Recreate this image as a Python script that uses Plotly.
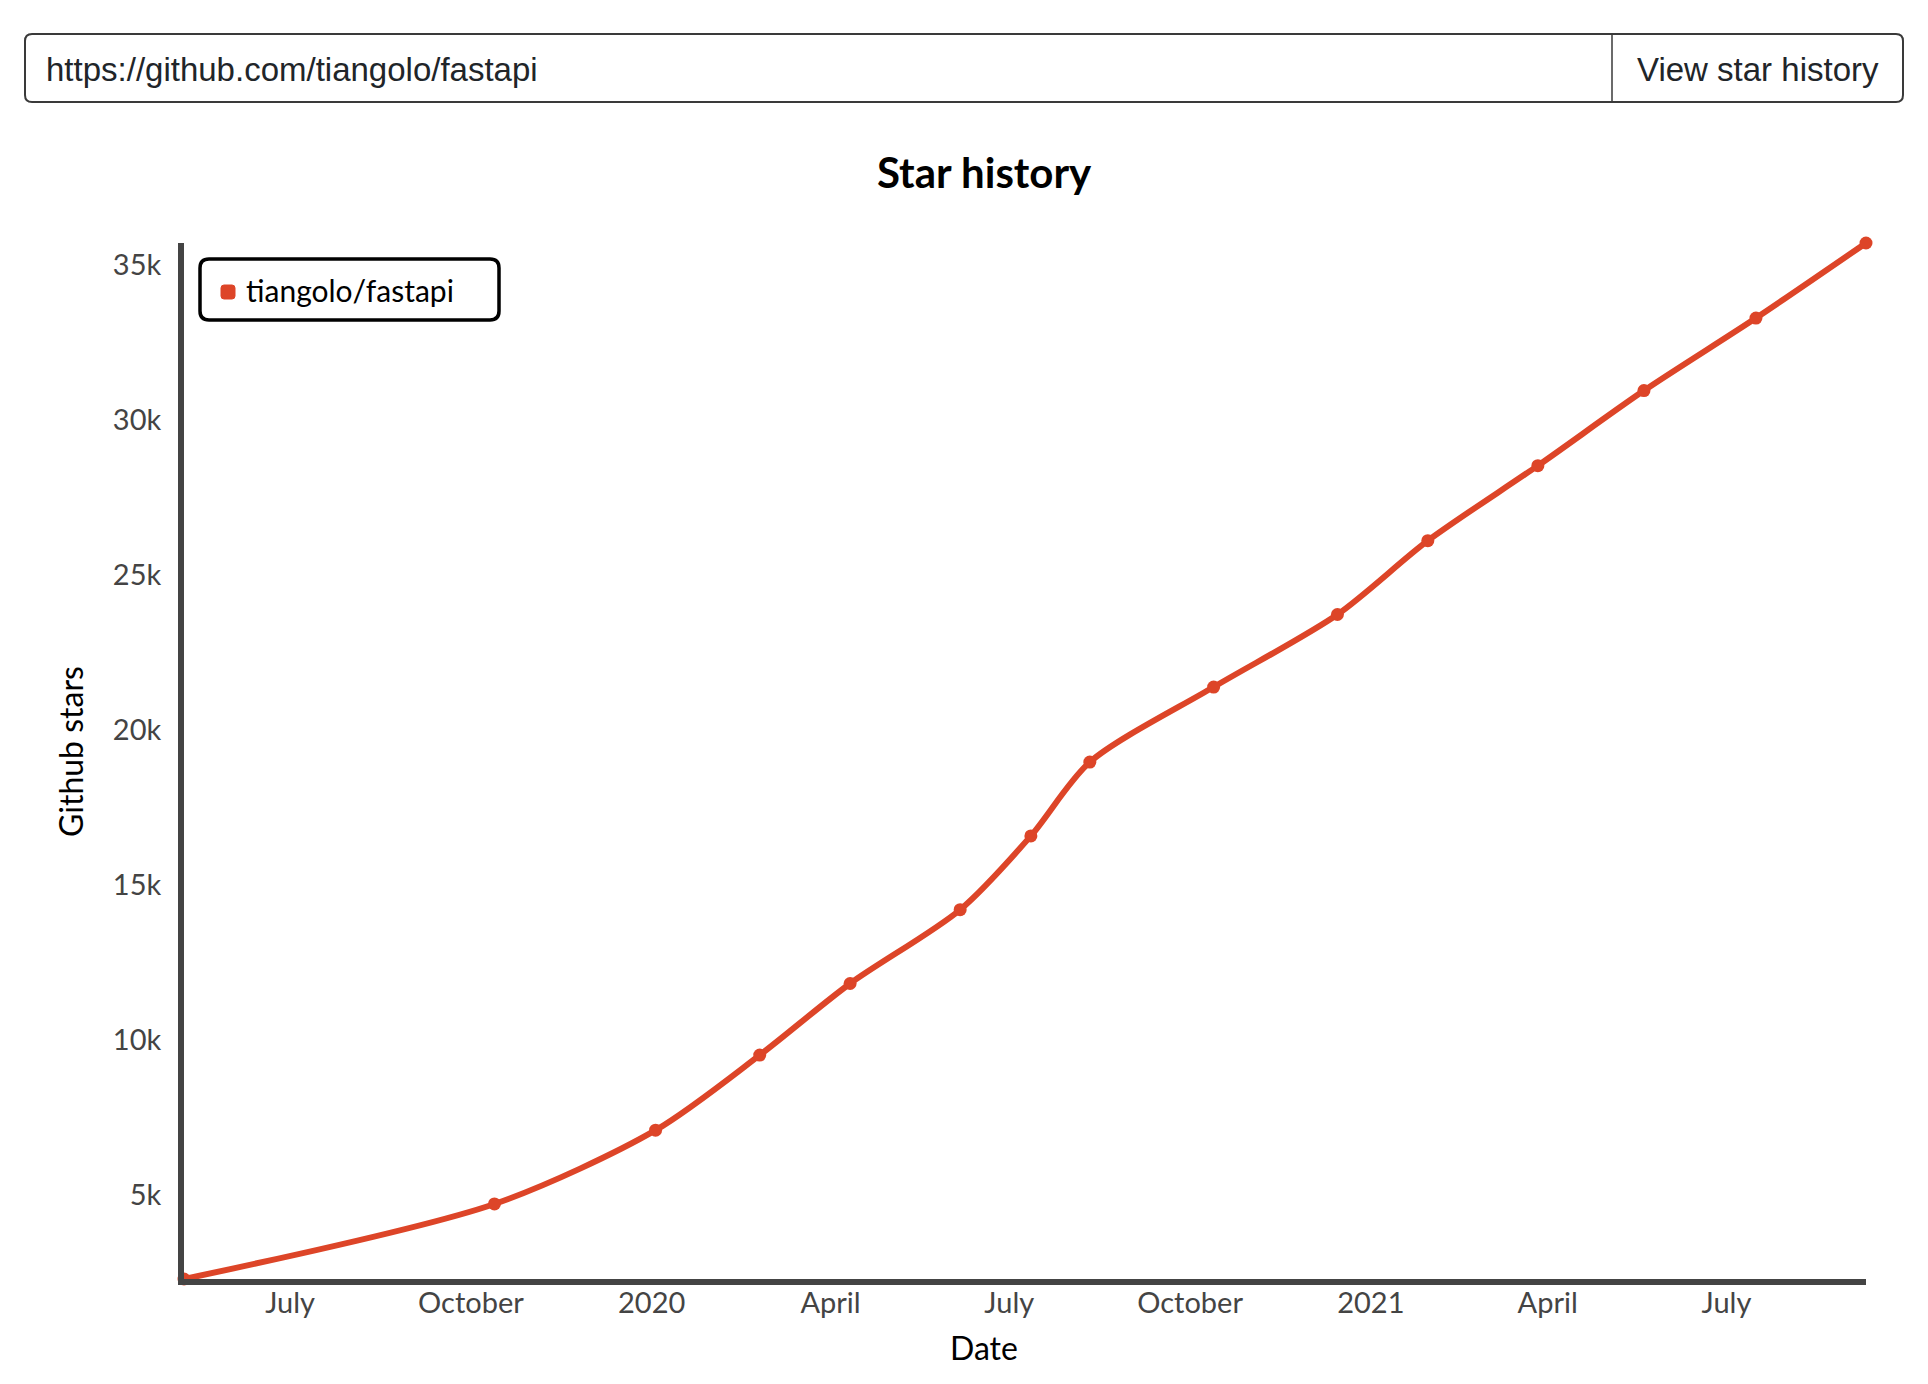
import plotly.graph_objects as go

# ---- data ----
SERIES_NAME = "tiangolo/fastapi"
dates = ["2019-05-08", "2019-10-13", "2020-01-03", "2020-02-25", "2020-04-11",
         "2020-06-06", "2020-07-12", "2020-08-11", "2020-10-13", "2020-12-15",
         "2021-01-30", "2021-03-27", "2021-05-20", "2021-07-16", "2021-09-10"]
stars = [2300, 4720, 7100, 9520, 11830, 14210, 16590, 18970, 21390, 23730,
         26110, 28530, 30950, 33290, 35710]
x_tick_vals = ["2019-07-01", "2019-10-01", "2020-01-01", "2020-04-01", "2020-07-01",
               "2020-10-01", "2021-01-01", "2021-04-01", "2021-07-01"]
x_tick_text = ["July", "October", "2020", "April", "July", "October", "2021", "April", "July"]
y_tick_vals = [5000, 10000, 15000, 20000, 25000, 30000, 35000]
y_tick_text = ["5k", "10k", "15k", "20k", "25k", "30k", "35k"]
URL_TEXT = "https://github.com/tiangolo/fastapi"
BUTTON_TEXT = "View star history"
TITLE = "Star history"
X_TITLE = "Date"
Y_TITLE = "Github stars"

# ---- layout geometry (page pixels; the page body has an 8px margin) ----
OFF = 8
FIG_W, FIG_H = 1928, 1384
PL, PR, PT, PB = 184, 1866, 243, 1279     # plot area edges on the page
ML, MT = PL - OFF, PT - OFF
MR, MB = FIG_W - (PR - OFF), FIG_H - (PB - OFF)
PW, PH = FIG_W - ML - MR, FIG_H - MT - MB
RED = "#dd4528"
AXIS = "#444444"
FONT = "Lato"


def px(x):
    return (x - PL) / PW


def py(y):
    return (PB - y) / PH


def rounded_rect(x0, y0, x1, y1, r):
    rx, ry = r / PW, r / PH
    X0, X1, Y0, Y1 = px(x0), px(x1), py(y0), py(y1)  # Y0 is top (larger)
    return (f"M {X0+rx},{Y0} L {X1-rx},{Y0} Q {X1},{Y0} {X1},{Y0-ry} "
            f"L {X1},{Y1+ry} Q {X1},{Y1} {X1-rx},{Y1} L {X0+rx},{Y1} "
            f"Q {X0},{Y1} {X0},{Y1+ry} L {X0},{Y0-ry} Q {X0},{Y0} {X0+rx},{Y0} Z")


fig = go.Figure()
fig.add_trace(go.Scatter(
    x=dates, y=stars, name=SERIES_NAME, mode="lines+markers",
    line=dict(color=RED, width=6, shape="spline", smoothing=0.8),
    marker=dict(color=RED, size=13),
    cliponaxis=False, showlegend=False,
))

shapes = [
    # url input box
    dict(type="path", xref="paper", yref="paper", path=rounded_rect(25, 34, 1903, 102, 7),
         line=dict(color="#3a3a3a", width=2), fillcolor="rgba(0,0,0,0)", layer="above"),
    dict(type="line", xref="paper", yref="paper", x0=px(1612), x1=px(1612), y0=py(34), y1=py(102),
         line=dict(color="#3a3a3a", width=1.5)),
    # legend box
    dict(type="path", xref="paper", yref="paper", path=rounded_rect(200, 259, 499, 320, 9),
         line=dict(color="#000000", width=3.5), fillcolor="white", layer="above"),
    dict(type="path", xref="paper", yref="paper", path=rounded_rect(221, 285, 235, 299, 3),
         line=dict(color=RED, width=1), fillcolor=RED, layer="above"),
]

annotations = [
    dict(text=URL_TEXT, xref="paper", yref="paper", x=px(44), y=py(69), xanchor="left",
         yanchor="middle", showarrow=False, font=dict(family="Liberation Sans", size=33, color="#212529")),
    dict(text=BUTTON_TEXT, xref="paper", yref="paper", x=px(1758), y=py(69), xanchor="center",
         yanchor="middle", showarrow=False, font=dict(family="Liberation Sans", size=33, color="#212529")),
    dict(text=SERIES_NAME, xref="paper", yref="paper", x=px(244), y=py(290), xanchor="left",
         yanchor="middle", showarrow=False, font=dict(family=FONT, size=30, color="#000")),
    dict(text=f"<b>{TITLE}</b>", xref="paper", yref="paper", x=px(984), y=py(172), xanchor="center",
         yanchor="middle", showarrow=False, font=dict(family=FONT, size=42, color="#000")),
    dict(text=X_TITLE, xref="paper", yref="paper", x=px(984), y=py(1347), xanchor="center",
         yanchor="middle", showarrow=False, font=dict(family=FONT, size=32, color="#000")),
    dict(text=Y_TITLE, xref="paper", yref="paper", x=px(70), y=py(752), xanchor="center",
         yanchor="middle", showarrow=False, textangle=-90, font=dict(family=FONT, size=32, color="#000")),
]

fig.update_layout(
    width=FIG_W, height=FIG_H,
    margin=dict(l=ML, r=MR, t=MT, b=MB),
    paper_bgcolor="white", plot_bgcolor="white",
    font=dict(family=FONT),
    shapes=shapes, annotations=annotations,
)
fig.update_xaxes(
    type="date", range=[dates[0], dates[-1]],
    tickvals=x_tick_vals, ticktext=x_tick_text,
    showgrid=False, zeroline=False, showline=True, linecolor=AXIS, linewidth=6,
    ticks="", ticklabelstandoff=-7,
    tickfont=dict(family=FONT, size=29, color=AXIS),
)
fig.update_yaxes(
    range=[stars[0], stars[-1]],
    tickvals=y_tick_vals, ticktext=y_tick_text,
    showgrid=False, zeroline=False, showline=True, linecolor=AXIS, linewidth=6,
    ticks="", ticklabelstandoff=11,
    tickfont=dict(family=FONT, size=29, color=AXIS),
)

fig.write_html("out.html")
